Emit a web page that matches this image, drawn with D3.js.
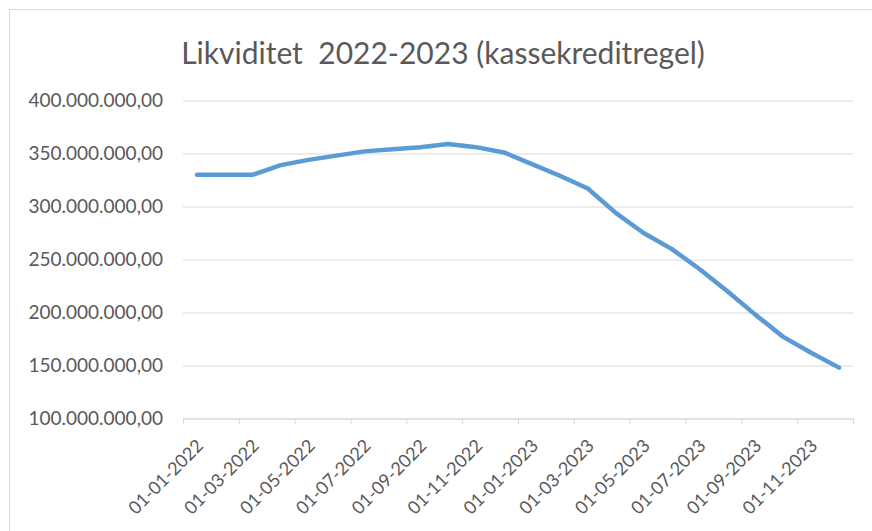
<!DOCTYPE html>
<html>
<head>
<meta charset="utf-8">
<script src="https://cdn.jsdelivr.net/npm/d3@7"></script>
<style>
  body { margin: 0; background: #fff; }
  svg { display: block; font-family: Lato, "Open Sans", sans-serif; }
</style>
</head>
<body>
<svg id="chart"></svg>
<script>
  // Monthly points (first of each month)
  const months = [
    "01-01-2022", "01-02-2022", "01-03-2022", "01-04-2022", "01-05-2022", "01-06-2022",
    "01-07-2022", "01-08-2022", "01-09-2022", "01-10-2022", "01-11-2022", "01-12-2022",
    "01-01-2023", "01-02-2023", "01-03-2023", "01-04-2023", "01-05-2023", "01-06-2023",
    "01-07-2023", "01-08-2023", "01-09-2023", "01-10-2023", "01-11-2023", "01-12-2023"
  ];

  // Likviditet (kr)
  const values = [
    330e6, 330e6, 330e6, 339e6, 344e6, 348e6,
    352e6, 354e6, 356e6, 359e6, 356e6, 351e6,
    340e6, 329e6, 317e6, 294e6, 275e6, 260e6,
    241e6, 220e6, 198e6, 177e6, 162e6, 148e6
  ];

  // Axis labels
  const tickLabels = [
    "01-01-2022", "01-03-2022", "01-05-2022", "01-07-2022", "01-09-2022", "01-11-2022",
    "01-01-2023", "01-03-2023", "01-05-2023", "01-07-2023", "01-09-2023", "01-11-2023"
  ];
  const yTicks = [100e6, 150e6, 200e6, 250e6, 300e6, 350e6, 400e6];

  const titleText = "Likviditet  2022-2023 (kassekreditregel)";

  const W = 872, H = 531;
  const plot = { left: 183, right: 853, top: 100.5, bottom: 418.5 };

  const svg = d3.select("#chart").attr("width", W).attr("height", H);

  // chart frame (only top/left edge visible in the crop)
  svg.append("rect")
    .attr("x", 9.5).attr("y", 9.5)
    .attr("width", W + 50).attr("height", H + 50)
    .attr("fill", "#fff")
    .attr("stroke", "#d9d9d9");

  const nf = d3.formatLocale({ decimal: ",", thousands: ".", grouping: [3], currency: ["", ""] })
    .format(",.2f");

  // x: month index, every point sits in the middle of its month
  const x = d3.scaleLinear().domain([0, months.length]).range([plot.left, plot.right]);
  const y = d3.scaleLinear().domain([100e6, 400e6]).range([plot.bottom, plot.top]);

  // gridlines
  svg.append("g")
    .attr("transform", `translate(${plot.left},0)`)
    .call(d3.axisLeft(y).tickValues(yTicks).tickSize(-(plot.right - plot.left)).tickFormat(""))
    .call(g => g.select(".domain").remove())
    .call(g => g.selectAll(".tick line").attr("stroke", "#d9d9d9"));

  // y labels
  svg.append("g")
    .attr("transform", `translate(${plot.left},0)`)
    .call(d3.axisLeft(y).tickValues(yTicks).tickSize(0).tickPadding(20).tickFormat(nf))
    .call(g => g.select(".domain").remove())
    .call(g => g.selectAll("text")
      .attr("fill", "#595959")
      .style("font-size", "19px")
      .style("font-family", "Lato, sans-serif"));

  // x axis
  svg.append("g")
    .attr("transform", `translate(0,${plot.bottom})`)
    .call(d3.axisBottom(x).tickValues(d3.range(0, months.length + 1, 2)).tickSize(6).tickSizeOuter(0).tickFormat(""))
    .call(g => g.select(".domain").attr("stroke", "#d9d9d9"))
    .call(g => g.selectAll(".tick line").attr("stroke", "#d9d9d9"));

  svg.append("g")
    .selectAll("text")
    .data(tickLabels)
    .join("text")
    .attr("transform", (d, i) => `translate(${x(i * 2 + 0.5) + 3},${plot.bottom + 24}) rotate(-45)`)
    .attr("text-anchor", "end")
    .attr("dy", "0.35em")
    .attr("fill", "#595959")
    .style("font-size", "18px")
    .text(d => d);

  // line
  const line = d3.line()
    .x((d, i) => x(i + 0.5))
    .y(d => y(d));

  svg.append("path")
    .datum(values)
    .attr("fill", "none")
    .attr("stroke", "#5b9bd5")
    .attr("stroke-width", 4.5)
    .attr("stroke-linejoin", "round")
    .attr("stroke-linecap", "round")
    .attr("d", line);

  // title
  svg.append("text")
    .attr("x", 443)
    .attr("y", 64)
    .attr("text-anchor", "middle")
    .attr("fill", "#595959")
    .style("font-size", "30px")
    .style("white-space", "pre")
    .text(titleText);
</script>
</body>
</html>
